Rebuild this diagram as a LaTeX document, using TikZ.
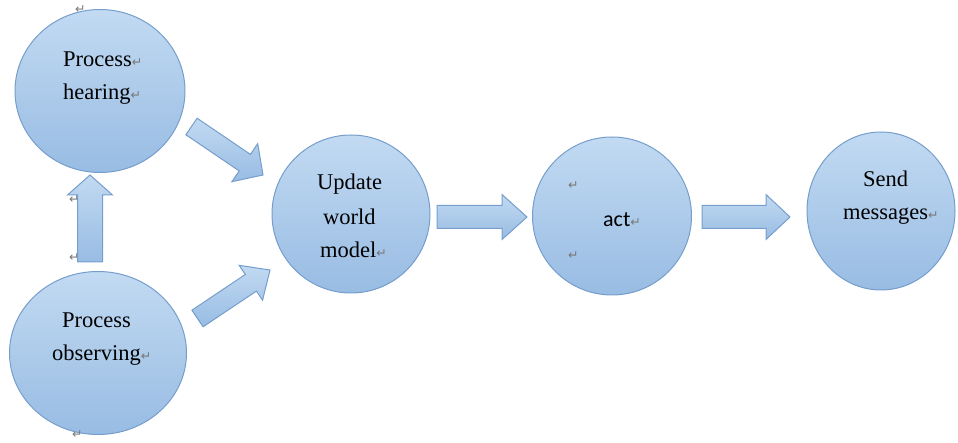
\documentclass[tikz,border=0pt]{standalone}
\usepackage{fontspec}
\setmainfont{Liberation Serif}
\newfontfamily\carlitofont{Carlito}
\newfontfamily\dejavufont{DejaVu Sans}
\usetikzlibrary{shapes.geometric,calc}
\definecolor{cTop}{RGB}{194,218,242}
\definecolor{cBot}{RGB}{152,188,227}
\definecolor{cLine}{RGB}{118,158,204}
\definecolor{retgray}{RGB}{120,120,120}
\newcommand\retmark{{\dejavufont\fontsize{12.5}{12.5}\selectfont\textcolor{retgray}{↵}}}
\newcommand\blockarr[5]{%
  \coordinate (#1-h) at ($(#2)!#5!(#1)$);
  \path[arrowbody] ($(#1)!#3!90:(#2)$) -- ($(#1-h)!#3!90:(#2)$) -- ($(#1-h)!#4!90:(#2)$)
    -- (#2) -- ($(#1-h)!#4!-90:(#2)$) -- ($(#1-h)!#3!-90:(#2)$) -- ($(#1)!#3!-90:(#2)$) -- cycle;}
\tikzset{
  bubble/.style={ellipse, draw=cLine, line width=1pt, top color=cTop, bottom color=cBot, inner sep=0pt},
  arrowbody/.style={draw=cLine, line width=1pt, top color=cTop, bottom color=cBot, line join=miter},
  lbl/.style={anchor=base west, inner sep=0pt, font=\fontsize{22.5}{27}\selectfont},
  lblsans/.style={anchor=base west, inner sep=0pt, font=\carlitofont\fontsize{22}{26}\selectfont},
  retm/.style={anchor=base west, inner sep=0pt}
}
\begin{document}
\begin{tikzpicture}[x=1pt,y=-1pt]
\useasboundingbox (0,0) rectangle (958,443);
% stray paragraph marks behind the up arrow
\node[retm] (r3) at (69,204) {\retmark};
\node[retm] (r4) at (69,262) {\retmark};
% anchor points of the block arrows
\coordinate (u1) at (90,262);  \coordinate (u2) at (90,175);
\coordinate (d1) at (191.5,126.5); \coordinate (d2) at (263,175);
\coordinate (e1) at (197.5,318.5); \coordinate (e2) at (270,270);
\coordinate (f1) at (437,217); \coordinate (f2) at (527,217);
\coordinate (g1) at (702,217); \coordinate (g2) at (790,217);
\blockarr{u1}{u2}{12.5pt}{22.5pt}{20pt}
\blockarr{d1}{d2}{10pt}{23pt}{22pt}
\blockarr{e1}{e2}{10pt}{21pt}{23pt}
\blockarr{f1}{f2}{11.5pt}{22.5pt}{25pt}
\blockarr{g1}{g2}{11.5pt}{22.5pt}{24pt}
% circles
\node[bubble, minimum width=170pt, minimum height=163pt] (hear) at (100,91) {};
\node[bubble, minimum width=177pt, minimum height=163pt] (obs) at (98,353) {};
\node[bubble, minimum width=158pt, minimum height=158pt] (upd) at (351,214) {};
\node[bubble, minimum width=159pt, minimum height=158pt] (act) at (612,216) {};
\node[bubble, minimum width=148pt, minimum height=158pt] (send) at (881,211) {};
% labels
\node[lbl] (t1a) at (63,67) {Process\retmark};
\node[lbl] (t1b) at (63,100) {hearing\retmark};
\node[lbl] (t2a) at (62,328) {Process};
\node[lbl] (t2b) at (52,360) {observing\retmark};
\node[lbl] (t3a) at (317,190) {Update};
\node[lbl] (t3b) at (323,225) {world};
\node[lbl] (t3c) at (320,258) {model\retmark};
\node[lblsans] (t4) at (603,227) {act\retmark};
\node[retm] (r5) at (568,190) {\retmark};
\node[retm] (r6) at (568,260) {\retmark};
\node[lbl] (t5a) at (863,187) {Send};
\node[lbl] (t5b) at (843,220) {messages\retmark};
% other paragraph marks
\node[retm] (r1) at (75,14) {\retmark};
\node[retm] (r2) at (72,438.5) {\retmark};
\end{tikzpicture}
\end{document}
